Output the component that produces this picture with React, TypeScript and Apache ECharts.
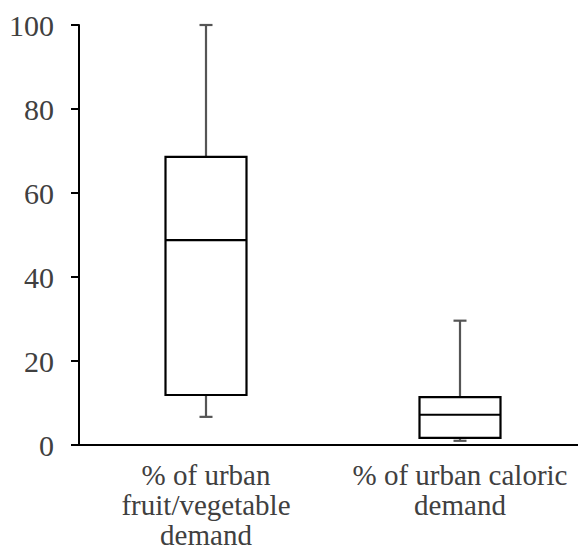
import React, { useEffect, useRef } from "react";
import * as echarts from "echarts";

const categories = ["% of urban\nfruit/vegetable\ndemand", "% of urban caloric\ndemand"];
// [min, Q1, median, Q3, max]
const lowValues = [6.7, 1.0];
const q1Values = [11.9, 1.7];
const medianValues = [48.8, 7.2];
const q3Values = [68.6, 11.4];
const highValues = [100, 29.6];
const yTicks = { min: 0, max: 100, interval: 20 };

export default function App() {
  const ref = useRef<HTMLDivElement>(null);
  useEffect(() => {
    if (!ref.current) return;
    const chart = echarts.init(ref.current, undefined, { renderer: "svg" });
    const data = categories.map((_, i) => [i, lowValues[i], q1Values[i], medianValues[i], q3Values[i], highValues[i]]);
    const font = "Liberation Serif";
    chart.setOption({
      animation: false,
      backgroundColor: "#ffffff",
      textStyle: { fontFamily: font },
      grid: { left: 79, right: -9, top: 25, bottom: 106, containLabel: false, outerBoundsMode: "none" },
      xAxis: {
        type: "category",
        data: categories,
        axisLine: { lineStyle: { color: "#000", width: 2 } },
        axisTick: { show: false },
        axisLabel: { color: "#404040", fontFamily: font, fontSize: 29, lineHeight: 30, margin: 15, interval: 0 },
        splitLine: { show: false },
      },
      yAxis: {
        type: "value",
        min: yTicks.min,
        max: yTicks.max,
        interval: yTicks.interval,
        axisLine: { show: true, lineStyle: { color: "#000", width: 2 } },
        axisTick: { show: true, length: 8, lineStyle: { color: "#000", width: 2 } },
        axisLabel: { color: "#404040", fontFamily: font, fontSize: 30, margin: 25 },
        splitLine: { show: false },
      },
      series: [
        {
          type: "custom",
          data,
          encode: { x: 0, y: [1, 2, 3, 4, 5] },
          renderItem: (params: any, api: any) => {
            const x = api.value(0);
            const lo = api.coord([x, api.value(1)]);
            const q1 = api.coord([x, api.value(2)]);
            const med = api.coord([x, api.value(3)]);
            const q3 = api.coord([x, api.value(4)]);
            const hi = api.coord([x, api.value(5)]);
            const cx = lo[0];
            const half = 40.5;
            const cap = 6.5;
            const wStyle = { stroke: "#555555", lineWidth: 2.2 };
            const bStyle = { stroke: "#000000", lineWidth: 2.2, fill: "#ffffff" };
            return {
              type: "group",
              children: [
                { type: "line", shape: { x1: cx, y1: hi[1], x2: cx, y2: q3[1] }, style: wStyle },
                { type: "line", shape: { x1: cx - cap, y1: hi[1], x2: cx + cap, y2: hi[1] }, style: wStyle },
                { type: "line", shape: { x1: cx, y1: lo[1], x2: cx, y2: q1[1] }, style: wStyle },
                { type: "line", shape: { x1: cx - cap, y1: lo[1], x2: cx + cap, y2: lo[1] }, style: wStyle },
                { type: "rect", shape: { x: cx - half, y: q3[1], width: half * 2, height: q1[1] - q3[1] }, style: bStyle },
                { type: "line", shape: { x1: cx - half, y1: med[1], x2: cx + half, y2: med[1] }, style: { stroke: "#000", lineWidth: 2.2 } },
              ],
            };
          },
        },
      ],
    });
    return () => chart.dispose();
  }, []);
  return <div ref={ref} style={{ position: "absolute", left: 0, top: 0, width: 578, height: 551 }} />;
}
